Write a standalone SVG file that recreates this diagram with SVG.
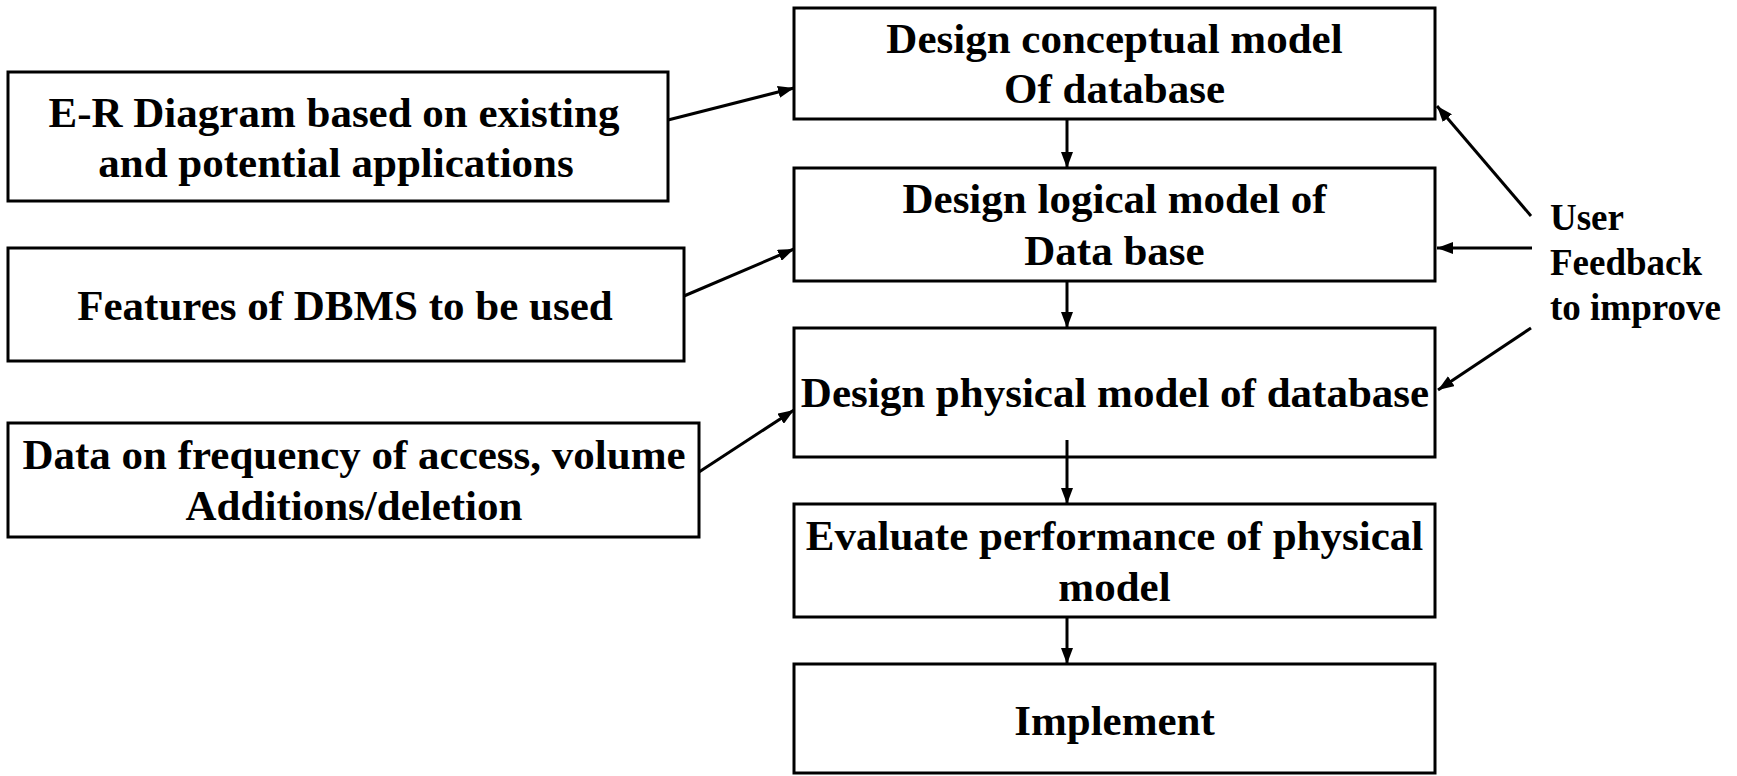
<svg xmlns="http://www.w3.org/2000/svg" width="1737" height="776" viewBox="0 0 1737 776">
<style>
.box{fill:#fff;stroke:#000;stroke-width:3}
.t{font-family:"Liberation Serif","Times New Roman",serif;font-weight:bold;font-size:43px;fill:#000;text-anchor:middle}
.fb{font-family:"Liberation Serif","Times New Roman",serif;font-weight:bold;font-size:37px;fill:#000}
.c{stroke:#000;stroke-width:3;fill:none;marker-end:url(#ah)}
</style>
<defs>
<marker id="ah" markerWidth="16" markerHeight="12" refX="16" refY="6" orient="auto" markerUnits="userSpaceOnUse">
<path d="M0,0 L16,6 L0,12 z" fill="#000"/>
</marker>
</defs>
<rect width="1737" height="776" fill="#fff"/>
<g id="er">
<rect class="box" x="8" y="72" width="660" height="129"/>
<text class="t" x="334" y="127">E-R Diagram based on existing</text>
<text class="t" x="336" y="177">and potential applications</text>
</g>
<g id="features">
<rect class="box" x="8" y="248" width="676" height="113"/>
<text class="t" x="345" y="320">Features of DBMS to be used</text>
</g>
<g id="data">
<rect class="box" x="8" y="423" width="691" height="114"/>
<text class="t" x="354" y="469">Data on frequency of access, volume</text>
<text class="t" x="354" y="520">Additions/deletion</text>
</g>
<g id="conceptual">
<rect class="box" x="794" y="8" width="641" height="111"/>
<text class="t" x="1114.5" y="53">Design conceptual model</text>
<text class="t" x="1114.5" y="103">Of database</text>
</g>
<g id="logical">
<rect class="box" x="794" y="168" width="641" height="113"/>
<text class="t" x="1114.5" y="213">Design logical model of</text>
<text class="t" x="1114.5" y="265">Data base</text>
</g>
<g id="physical">
<rect class="box" x="794" y="328" width="641" height="129"/>
<text class="t" x="1115" y="407">Design physical model of database</text>
</g>
<g id="evaluate">
<rect class="box" x="794" y="504" width="641" height="113"/>
<text class="t" x="1114.5" y="550">Evaluate performance of physical</text>
<text class="t" x="1114.5" y="601">model</text>
</g>
<g id="implement">
<rect class="box" x="794" y="664" width="641" height="109"/>
<text class="t" x="1114.5" y="735">Implement</text>
</g>
<g id="feedback">
<text class="fb" x="1550" y="230">User</text>
<text class="fb" x="1550" y="275">Feedback</text>
<text class="fb" x="1550" y="320">to improve</text>
</g>
<g id="connectors">
<line class="c" x1="668" y1="120" x2="794" y2="88"/>
<line class="c" x1="684" y1="296" x2="794" y2="249"/>
<line class="c" x1="699" y1="472" x2="794" y2="410"/>
<line class="c" x1="1067" y1="119" x2="1067" y2="168"/>
<line class="c" x1="1067" y1="281" x2="1067" y2="328"/>
<line class="c" x1="1067" y1="440" x2="1067" y2="504"/>
<line class="c" x1="1067" y1="617" x2="1067" y2="664"/>
<line class="c" x1="1531" y1="216" x2="1437" y2="106"/>
<line class="c" x1="1532" y1="248" x2="1437" y2="248"/>
<line class="c" x1="1531" y1="328" x2="1438" y2="390"/>
</g>
</svg>
